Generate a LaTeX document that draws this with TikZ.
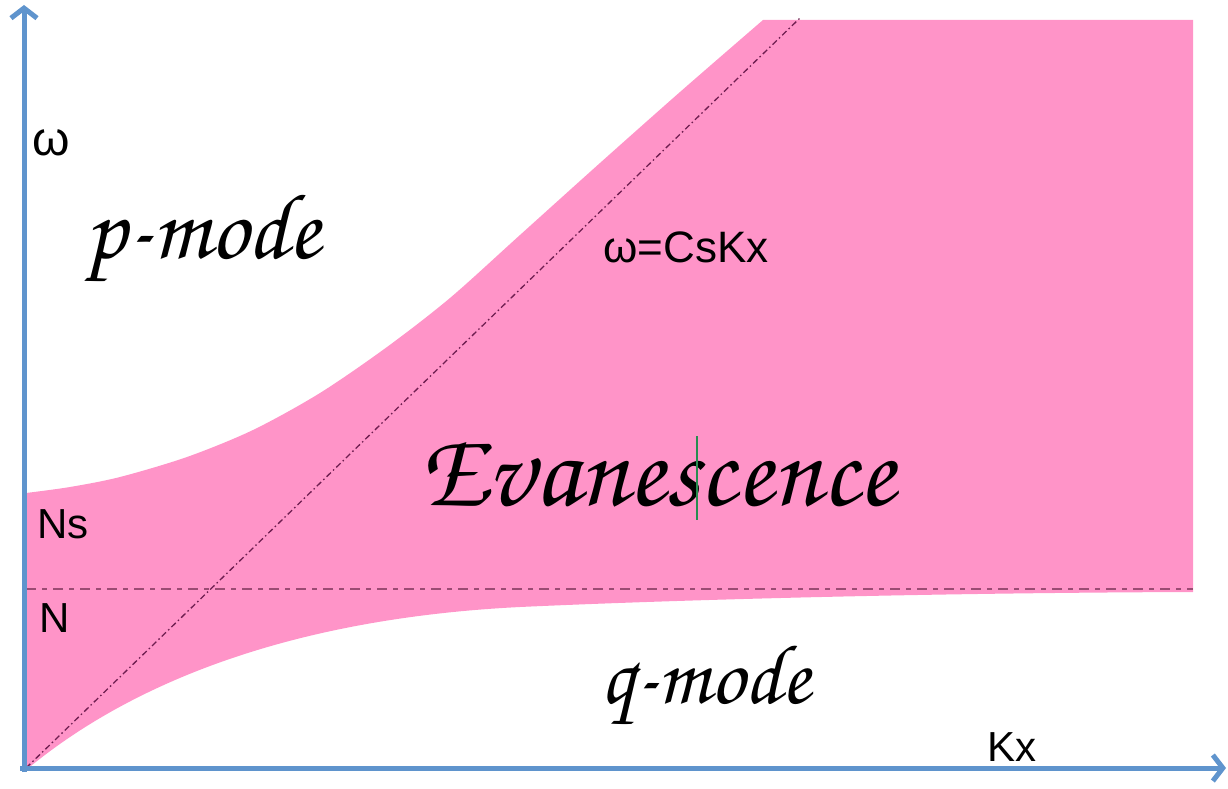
\documentclass[tikz,border=0pt]{standalone}
\usepackage[T1]{fontenc}
\usepackage{fontspec}
\usepackage{graphicx}
\usetikzlibrary{arrows.meta}
\newfontfamily\sansf{Liberation Sans}
\newcommand\scriptf{\fontencoding{T1}\fontfamily{pzc}\fontseries{mb}\fontshape{it}\selectfont}
\definecolor{evpink}{RGB}{255,148,200}
\definecolor{axblue}{RGB}{95,148,205}
\definecolor{nline}{RGB}{155,75,115}
\definecolor{csline}{RGB}{110,30,80}
\definecolor{curgreen}{RGB}{40,140,80}
\tikzset{
  axis/.style={draw=axblue, line width=5pt, -{Straight Barb[length=10pt,width=26pt]}},
  lab/.style={font=\sansf\fontsize{42}{44}\selectfont, text=black, inner sep=0pt, anchor=base west},
  scr/.style={inner sep=0pt, anchor=base west, text=black},
  nstyle/.style={draw=nline, line width=2.8pt, dash pattern=on 10pt off 6pt on 5pt off 6pt},
  csstyle/.style={draw=csline, line width=1.3pt, dash pattern=on 6pt off 3pt on 1.5pt off 3pt}
}
\begin{document}
\begin{tikzpicture}[x=1pt,y=-1pt]
\useasboundingbox (0,0) rectangle (1228,789);
% evanescence region
\fill[evpink] plot[smooth] coordinates {(26,493) (70,487) (120,477) (187,457) (253,430) (320,393) (387,347) (450,298) (520,235) (600,163) (680,92) (763,20)}
  -- (1193,20) -- (1193,592)
  .. controls (900,593) and (650,601) .. (520,607)
  .. controls (260,620) and (110,700) .. (26,770)
  -- cycle;
% reference lines
\coordinate (nL) at (26,589);
\coordinate (nR) at (1193,589);
\draw[nstyle] (nL) -- (nR);
\coordinate (csA) at (26,768);
\coordinate (csB) at (800,18);
\draw[csstyle] (csA) -- (csB);
% axes
\coordinate (O) at (24,768);
\coordinate (Ytop) at (24,5);
\coordinate (Xend) at (1226,768);
\coordinate (Ostart) at (24,772);
\coordinate (Xstart) at (20,768);
\draw[axis] (Ostart) -- (Ytop);
\draw[axis] (Xstart) -- (Xend);
% labels
\node[lab, font=\sansf\fontsize{48}{50}\selectfont] (om) at (32,155) {ω};
\node[lab] (ns) at (37,538) {Ns};
\node[lab] (nn) at (39,632) {N};
\node[lab] (kx) at (987,761) {Kx};
\node[lab, font=\sansf\fontsize{44}{46}\selectfont] (cs) at (603,262) {ω=CsKx};
% script labels
\node[scr] (pm) at (85,258) {\resizebox{235pt}{!}{\scriptf p-mode}};
\node[scr] (qm) at (600,703) {\resizebox{210pt}{!}{\scriptf q-mode}};
\node[scr] (ev) at (420,505) {\resizebox{475pt}{!}{\scriptf Evanescence}};
% cursor mark
\coordinate (gT) at (697,436);
\coordinate (gB) at (697,520);
\draw[curgreen, line width=2pt] (gT) -- (gB);
\end{tikzpicture}
\end{document}
